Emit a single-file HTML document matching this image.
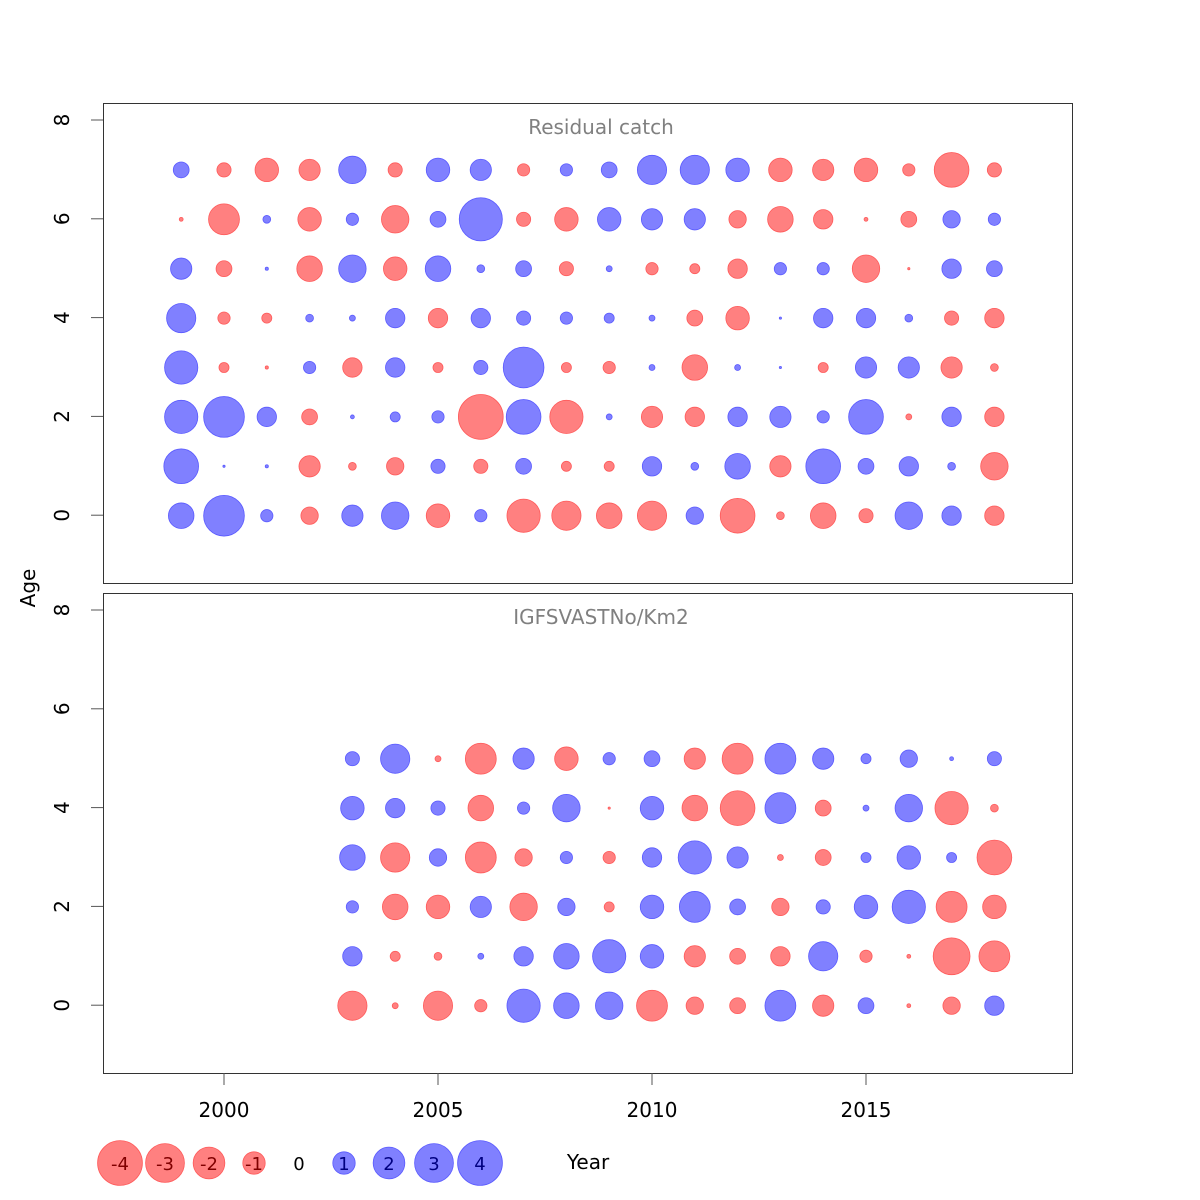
<!DOCTYPE html>
<html><head><meta charset="utf-8"><style>
body{margin:0;background:#fff}
svg{display:block;font-family:"DejaVu Sans","Liberation Sans",sans-serif}
</style></head><body>
<svg id="chart" width="1200" height="1200" viewBox="0 0 1200 1200"></svg>
<script>
// Top panel (Residual catch): years 1999-2018, rows = ages 0..7 (signed residuals)
const topYears = [1999,2000,2001,2002,2003,2004,2005,2006,2007,2008,2009,2010,2011,2012,2013,2014,2015,2016,2017,2018];
const topAge0 = [1.3,3.3,0.3,-0.6,0.9,1.5,-1.1,0.3,-2.2,-1.7,-1.3,-1.7,0.6,-2.4,-0.12,-1.3,-0.4,1.5,0.75,-0.75];
const topAge1 = [2.4,0.01,0.02,-0.9,-0.12,-0.6,0.4,-0.4,0.5,-0.2,-0.2,0.75,0.12,1.3,-0.9,2.4,0.5,0.75,0.12,-1.5];
const topAge2 = [2.2,3.3,0.75,-0.5,0.03,0.2,0.3,-4,2.4,-2.2,0.07,-0.9,-0.75,0.75,0.9,0.3,2.4,-0.07,0.75,-0.75];
const topAge3 = [2.2,-0.2,-0.02,0.3,-0.75,0.75,-0.2,0.4,3.3,-0.2,-0.3,0.07,-1.3,0.07,0.01,-0.2,0.9,0.9,-0.9,-0.12];
const topAge4 = [1.7,-0.3,-0.2,0.12,0.07,0.75,-0.75,0.75,0.4,0.3,0.2,0.07,-0.5,-1.1,0.01,0.75,0.75,0.12,-0.4,-0.75];
const topAge5 = [0.9,-0.5,0.02,-1.3,1.5,-1.1,1.3,0.12,0.5,-0.4,0.07,-0.3,-0.2,-0.75,0.3,0.3,-1.5,-0.01,0.75,0.5];
const topAge6 = [-0.03,-1.9,0.12,-1.1,0.3,-1.5,0.5,3.7,-0.4,-1.1,1.1,0.9,0.9,-0.6,-1.3,-0.75,-0.03,-0.5,0.6,0.3];
const topAge7 = [0.5,-0.4,-1.1,-0.9,1.5,-0.4,1.1,0.9,-0.3,0.3,0.5,1.7,1.7,1.1,-1.1,-0.9,-1.1,-0.3,-2.4,-0.4];
// Bottom panel (IGFSVASTNo/Km2): years 2003-2018, ages 0..5
const botYears = [2003,2004,2005,2006,2007,2008,2009,2010,2011,2012,2013,2014,2015,2016,2017,2018];
const botAge0 = [-1.7,-0.07,-1.7,-0.3,2.2,1.3,1.5,-1.9,-0.6,-0.5,1.9,-0.9,0.5,-0.03,-0.6,0.75];
const botAge1 = [0.75,-0.2,-0.12,0.07,0.75,1.3,2.2,1.1,-0.9,-0.5,-0.75,1.7,-0.3,-0.03,-2.7,-1.9];
const botAge2 = [0.3,-1.3,-1.1,0.9,-1.5,0.6,-0.2,1.1,1.9,0.5,-0.6,0.4,1.1,2.2,-1.9,-1.1];
const botAge3 = [1.3,-1.7,0.6,-1.9,-0.6,0.3,-0.3,0.75,2.2,0.9,-0.07,-0.5,0.2,1.1,0.2,-2.4];
const botAge4 = [1.1,0.75,0.4,-1.3,0.3,1.5,-0.01,1.1,-1.3,-2.4,1.9,-0.5,0.07,1.5,-2.2,-0.12];
const botAge5 = [0.4,1.7,-0.07,-1.9,0.9,-1.1,0.3,0.5,-0.9,-1.9,1.9,0.9,0.2,0.6,0.03,0.4];
const legendVals = [-4,-3,-2,-1,0,1,2,3,4];
const xTicks = [2000,2005,2010,2015];
const yTicks = [0,2,4,6,8];

const NS="http://www.w3.org/2000/svg";
const svg=document.getElementById('chart');
function mk(tag,attrs,parent){const e=document.createElementNS(NS,tag);for(const k in attrs)e.setAttribute(k,attrs[k]);(parent||svg).appendChild(e);return e;}
const xS=y=>224+(y-2000)*42.8;
const rS=v=>11.2*Math.sqrt(Math.abs(v));
function col(v){return v<0?['#ff8080','#ff5a5a']:['#8080ff','#5a5aff'];}

function panel(top,title,years,rows,name){
  const yS=a=>top+17+ (8-a)*49.4;
  const g=mk('g',{});
  
  
  const box=mk('rect',{x:103.5,y:top+0.5,width:969,height:480,fill:'none',stroke:'#333','stroke-width':1},g);
  
  
  const t=mk('text',{x:601,y:top+31,'text-anchor':'middle','font-size':20,fill:'#808080'},g);
  t.textContent=title;
  
  
  yTicks.forEach(v=>{
    const yy=yS(v);
    const l=mk('line',{x1:91,x2:103,y1:yy,y2:yy,stroke:'#555'},g);
    
    
    const tx=mk('text',{x:75,y:yy,'text-anchor':'middle','font-size':20,transform:`rotate(-90 75 ${yy}) translate(0 -6)`},g);
    tx.textContent=v;
    
    
  });
  rows.forEach((row,age)=>{
    row.forEach((v,i)=>{
      const c=col(v);
      const ci=mk('circle',{cx:xS(years[i]),cy:yS(age)+0.5,r:Math.max(rS(v),0.6),fill:c[0],stroke:c[1],'stroke-width':0.8},g);
      
      
    });
  });
}
panel(103,'Residual catch',topYears,[topAge0,topAge1,topAge2,topAge3,topAge4,topAge5,topAge6,topAge7],'residual-catch');
panel(593,'IGFSVASTNo/Km2',botYears,[botAge0,botAge1,botAge2,botAge3,botAge4,botAge5],'igfsvast');

xTicks.forEach(v=>{
  const l=mk('line',{x1:xS(v),x2:xS(v),y1:1073,y2:1085,stroke:'#555'});
  
  
  const t=mk('text',{x:xS(v),y:1117,'text-anchor':'middle','font-size':20});
  t.textContent=v;
  
  
});
const ay=mk('text',{x:35,y:588,'text-anchor':'middle','font-size':20,transform:'rotate(-90 35 588)'});
ay.textContent='Age';


const ax=mk('text',{x:588,y:1169,'text-anchor':'middle','font-size':20});
ax.textContent='Year';



const legX=[120,165,209,254,299,344,389,434,480];
legendVals.forEach((v,i)=>{
  if(v!==0){
    const c=col(v);
    const ci=mk('circle',{cx:legX[i],cy:1163,r:rS(v),fill:c[0],stroke:c[1],'stroke-width':0.8});
    
    
  }
  const t=mk('text',{x:legX[i],y:1170,'text-anchor':'middle','font-size':18,fill:v<0?'#800000':(v>0?'#000080':'#000')});
  t.textContent=v;
  
  
});
</script>
</body></html>
